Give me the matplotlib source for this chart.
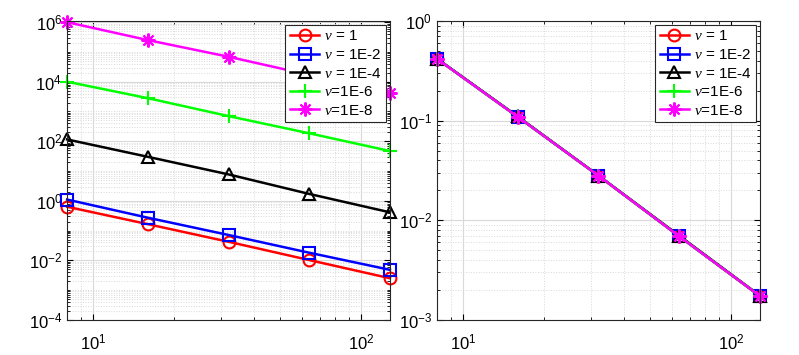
import matplotlib
matplotlib.use('Agg')
from matplotlib import pyplot as plt
from matplotlib.ticker import LogLocator, NullFormatter
import numpy as np

plt.rcParams['font.family'] = ['Liberation Sans', 'DejaVu Sans']
plt.rcParams['mathtext.fontset'] = 'custom'
plt.rcParams['mathtext.it'] = 'Liberation Serif:italic'

h = [8, 16, 32, 64, 128]
labels = [r'$\nu$ = 1', r'$\nu$ = 1E-2', r'$\nu$ = 1E-4', r'$\nu$=1E-6', r'$\nu$=1E-8']
colors = ['red', 'blue', 'black', '#00ff00', 'magenta']
markers = ['o', 's', '^', '+', (8, 2, 0)]

# left panel
err_left = [
    [0.63, 0.164, 0.042, 0.0102, 0.0025],
    [1.1, 0.27, 0.071, 0.018, 0.0048],
    [115, 30, 7.7, 1.7, 0.41],
    [1.0e4, 2.8e3, 700, 185, 47],
    [1.0e6, 2.5e5, 6.9e4, 1.7e4, 4.2e3],
]
yticks_left = [1e-4, 1e-2, 1e0, 1e2, 1e4, 1e6]

# right panel
err_right = [
    [0.416, 0.109, 0.0279, 0.0069, 0.00173],
    [0.417, 0.109, 0.0280, 0.0069, 0.00174],
    [0.418, 0.110, 0.0281, 0.0070, 0.00175],
    [0.416, 0.109, 0.0280, 0.0069, 0.00174],
    [0.416, 0.109, 0.0280, 0.0069, 0.00174],
]
yticks_right = [1e-3, 1e-2, 1e-1, 1e0]


def _style_axis(ax, ylim, yticks, minor_subs):
    ax.set_xscale('log')
    ax.set_yscale('log')
    ax.set_xlim(8, 128)
    ax.set_ylim(*ylim)
    ax.set_xticks([10, 100])
    ax.xaxis.set_minor_locator(LogLocator(base=10, subs=np.arange(2, 10), numticks=20))
    ax.xaxis.set_minor_formatter(NullFormatter())
    ax.set_yticks(yticks)
    ax.yaxis.set_minor_locator(LogLocator(base=10, subs=minor_subs, numticks=30))
    ax.yaxis.set_minor_formatter(NullFormatter())
    ax.grid(True, which='major', color='#d9d9d9', linestyle='-', linewidth=0.8)
    ax.grid(True, which='minor', color='#d9d9d9', linestyle=':', linewidth=0.7)
    ax.set_axisbelow(True)
    ax.tick_params(which='both', direction='in', top=True, right=True, labelsize=12)
    ax.tick_params(axis='x', which='major', pad=9)
    ax.tick_params(which='major', length=4)
    ax.tick_params(which='minor', length=2)
    for spine in ax.spines.values():
        spine.set_color('#262626')
        spine.set_linewidth(0.8)


def _plot_panel(ax, errs):
    for err, c, m, lab in zip(errs, colors, markers, labels):
        ms = 10 if m in ('+', (8, 2, 0)) else 8.5
        ax.plot(h, err, color=c, marker=m, markersize=ms, markerfacecolor='none',
                markeredgewidth=1.5, linewidth=1.8, label=lab, clip_on=False)
    leg = ax.legend(loc='upper right', fontsize=11, fancybox=False, framealpha=1,
                    edgecolor='#262626', handlelength=1.9, handletextpad=0.3,
                    labelspacing=0.3, borderpad=0.3, borderaxespad=0.25)
    leg.get_frame().set_linewidth(0.8)
    leg.set_zorder(10)


fig = plt.figure(figsize=(7.99, 3.55), dpi=100)
ax1 = fig.add_axes([0.084, 0.099, 0.404, 0.842])
ax2 = fig.add_axes([0.547, 0.099, 0.404, 0.842])

_plot_panel(ax1, err_left)
_style_axis(ax1, (1e-4, 1.1e6), yticks_left, np.arange(1, 10))
_plot_panel(ax2, err_right)
_style_axis(ax2, (1e-3, 1e0), yticks_right, np.arange(2, 10))

fig.savefig('out.png', dpi=100)
